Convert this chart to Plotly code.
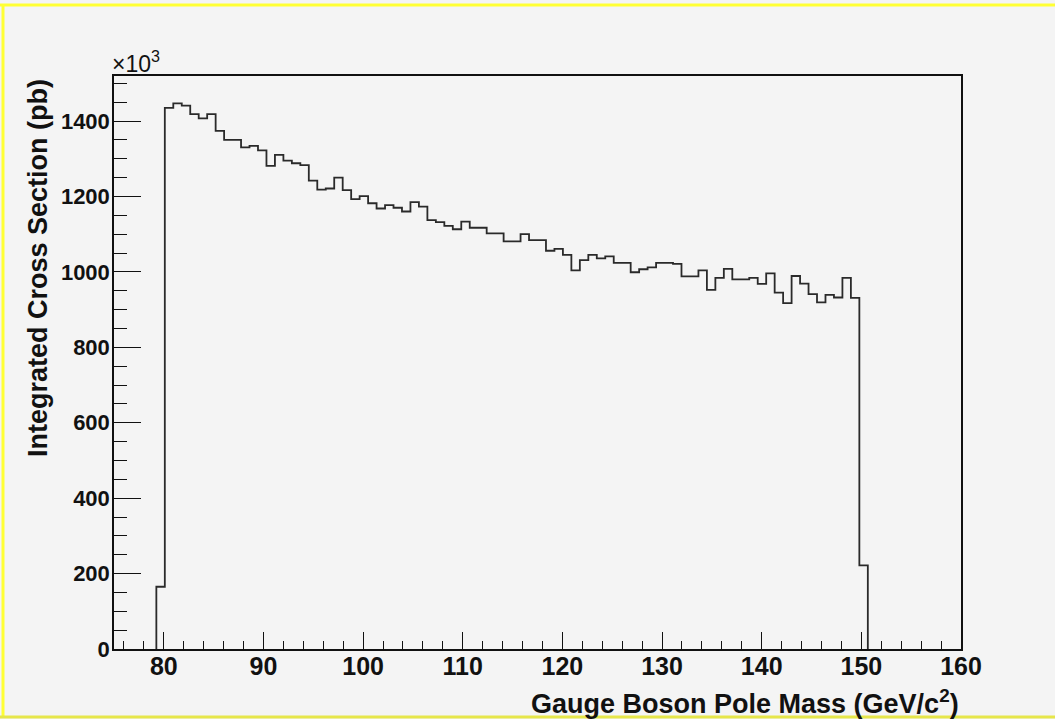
import plotly.graph_objects as go

# Histogram definition: 100 bins on [75, 160] GeV/c^2
X_MIN, X_MAX, N_BINS = 75.0, 160.0, 100
FIRST_FILLED_BIN = 5  # index of the first non-empty bin

# Integrated cross section per bin, in units of 10^3 pb
xsec_kpb = [
    165, 1435, 1447, 1441, 1418, 1407, 1418, 1374, 1350, 1350,
    1330, 1334, 1322, 1281, 1310, 1295, 1288, 1283, 1242, 1218,
    1221, 1250, 1217, 1193, 1201, 1182, 1168, 1177, 1170, 1160,
    1185, 1173, 1137, 1132, 1122, 1113, 1133, 1117, 1117, 1102,
    1102, 1081, 1081, 1100, 1084, 1084, 1056, 1061, 1045, 1004,
    1031, 1045, 1036, 1041, 1024, 1024, 999, 1007, 1012, 1024,
    1024, 1021, 988, 988, 1004, 952, 984, 1008, 980, 980,
    984, 968, 996, 945, 917, 989, 969, 941, 919, 939,
    932, 984, 931, 222,
]

x_ticks = [80, 90, 100, 110, 120, 130, 140, 150, 160]
y_ticks = [0, 200, 400, 600, 800, 1000, 1200, 1400]

x_title = "Gauge Boson Pole Mass (GeV/c<sup>2</sup>)"
y_title = "Integrated Cross Section (pb)"
y_scale_label = "×10<sup>3</sup>"

bin_w = (X_MAX - X_MIN) / N_BINS
lo_edges = [X_MIN + (FIRST_FILLED_BIN + i) * bin_w for i in range(len(xsec_kpb))]
hi_last = lo_edges[-1] + bin_w

# Outline of the histogram as a step curve
step_x = [lo_edges[0]] + lo_edges + [hi_last, hi_last]
step_y = [0] + xsec_kpb + [xsec_kpb[-1], 0]

y_max = max(xsec_kpb) * 1.05

BG = "#f4f4f4"
INK = "#111111"
FONT = "Liberation Sans, Arial, Helvetica, sans-serif"

fig = go.Figure()
fig.add_trace(go.Scatter(
    x=step_x, y=step_y, mode="lines",
    line=dict(shape="hv", color="#2a2a2a", width=1.8),
    hoverinfo="skip", showlegend=False,
))

W, H = 1055, 719
ML, MR, MT, MB = 114, 94, 76, 70
pw, ph = W - ML - MR, H - MT - MB


def px(xp):
    return (xp - ML) / pw


def py(yp):
    return (H - MB - yp) / ph


fig.update_layout(
    width=W, height=H, autosize=False,
    margin=dict(l=ML, r=MR, t=MT, b=MB, pad=0),
    paper_bgcolor=BG, plot_bgcolor=BG,
    font=dict(family=FONT, color=INK),
    showlegend=False,
    xaxis=dict(
        range=[X_MIN, X_MAX], tickvals=x_ticks,
        ticks="inside", ticklen=17, tickwidth=1.2, tickcolor=INK,
        minor=dict(dtick=2, tick0=0, ticks="inside", ticklen=8, tickwidth=1.2, tickcolor=INK),
        showline=True, linecolor=INK, linewidth=1.5, mirror=True,
        showgrid=False, zeroline=False, ticklabelstandoff=-6,
        tickfont=dict(family=FONT, size=25, color=INK, weight="bold"),
    ),
    yaxis=dict(
        range=[0, y_max], tickvals=y_ticks,
        ticks="inside", ticklen=27, tickwidth=1.2, tickcolor=INK,
        minor=dict(dtick=50, tick0=0, ticks="inside", ticklen=13, tickwidth=1.2, tickcolor=INK),
        showline=True, linecolor=INK, linewidth=1.5, mirror=True,
        showgrid=False, zeroline=False, ticklabelstandoff=-2,
        tickfont=dict(family=FONT, size=22, color=INK, weight="bold"),
    ),
    annotations=[
        dict(text=f"<b>{x_title}</b>", xref="paper", yref="paper",
             x=1, y=py(702), xanchor="right", yanchor="middle", showarrow=False,
             font=dict(family=FONT, size=27, color=INK)),
        dict(text=f"<b>{y_title}</b>", xref="paper", yref="paper",
             x=px(38), y=py(77), xanchor="center", yanchor="top", textangle=-90,
             showarrow=False, font=dict(family=FONT, size=27, color=INK)),
        dict(text=y_scale_label, xref="paper", yref="paper",
             x=px(110), y=py(79), xanchor="left", yanchor="bottom", showarrow=False,
             font=dict(family=FONT, size=23, color=INK)),
    ],
    shapes=[
        dict(type="line", xref="paper", yref="paper", x0=px(0), x1=px(W), y0=py(5), y1=py(5),
             line=dict(color="#ffff33", width=3)),
        dict(type="line", xref="paper", yref="paper", x0=px(3), x1=px(3), y0=py(5), y1=py(717),
             line=dict(color="#ffff33", width=3)),
        dict(type="line", xref="paper", yref="paper", x0=px(0), x1=px(W), y0=py(717), y1=py(717),
             line=dict(color="#e6e64a", width=3)),
    ],
)

fig.write_html("out.html")
